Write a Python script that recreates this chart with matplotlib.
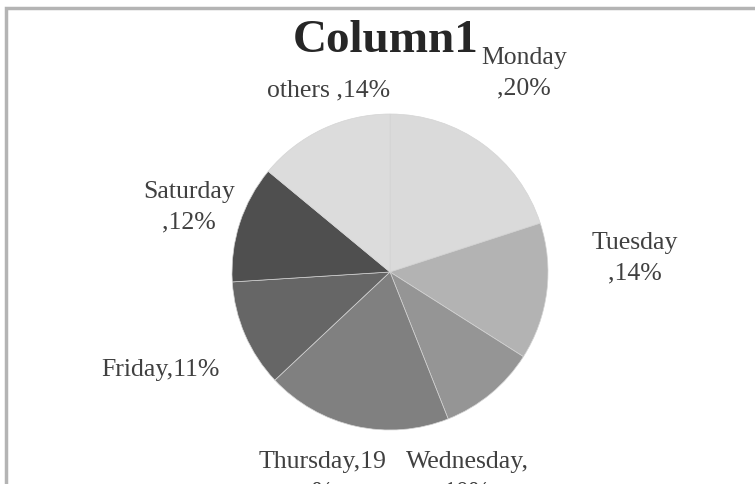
import matplotlib.pyplot as plt
from matplotlib.patches import Rectangle

# ---- data ----
days = ["Monday", "Tuesday", "Wednesday", "Thursday", "Friday", "Saturday", "others"]
shares = [20, 14, 10, 19, 11, 12, 14]
label_texts = ["Monday\n,20%", "Tuesday\n,14%", "Wednesday,\n10%", "Thursday,19\n%",
               "Friday,11%", "Saturday\n,12%", "others ,14%"]

colors = ["#dadada", "#b3b3b3", "#959595", "#808080", "#666666", "#4f4f4f", "#dcdcdc"]
# label centres in pie data units (radius = 1)
label_pos = [(0.85, 1.26), (1.55, 0.09), (0.49, -1.30), (-0.43, -1.30),
             (-1.45, -0.62), (-1.27, 0.41), (-0.39, 1.15)]

plt.rcParams["font.family"] = ["Liberation Serif", "DejaVu Serif"]

fig = plt.figure(figsize=(7.55, 4.84), dpi=100)
fig.patch.set_facecolor("white")

W, H = 755, 484
cx, cy, r = 390, 272, 158
ax = fig.add_axes([(cx - r) / W, (H - cy - r) / H, 2 * r / W, 2 * r / H])
ax.pie(shares, colors=colors, startangle=90, counterclock=False, radius=1,
       wedgeprops=dict(edgecolor="#d4d4d4", linewidth=0.5))
ax.set_xlim(-1, 1)
ax.set_ylim(-1, 1)
ax.set_aspect("equal")
ax.axis("off")

for txt, (x, y) in zip(label_texts, label_pos):
    ax.text(x, y, txt, ha="center", va="center", fontsize=18.5, color="#404040",
            linespacing=1.5, clip_on=False)

fig.text(386 / W, 1 - 41 / H, "Column1", ha="center", va="center",
         fontsize=34, fontweight="bold", color="#262626")

# frame of the chart area (cut off at right and bottom)
fig.patches.append(Rectangle((6 / W, -0.1), 1.2, 1 - 8 / H + 0.1,
                             transform=fig.transFigure, fill=False,
                             edgecolor="#b4b4b4", linewidth=2.5))

fig.savefig("out.png", dpi=100)
